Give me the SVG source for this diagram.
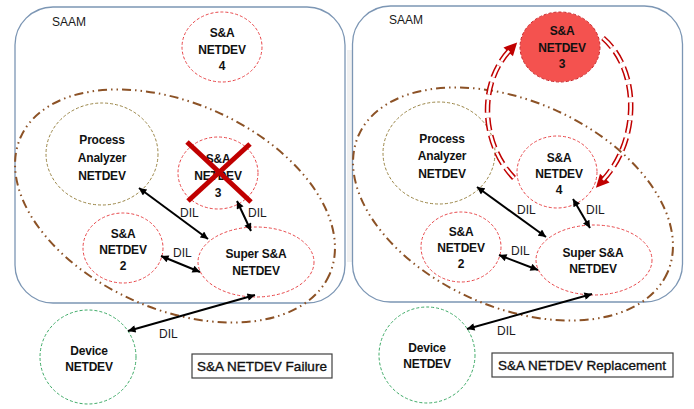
<svg xmlns="http://www.w3.org/2000/svg" width="694" height="409" viewBox="0 0 694 409">
  <style>
    .saam { fill: #ffffff; stroke: #7c96b4; stroke-width: 1.3; }
    .zone { fill: none; stroke: #8c5226; stroke-width: 2; stroke-dasharray: 9 4 1.5 4 1.5 4; }
    .sa { fill: #ffffff; stroke: #e8474a; stroke-width: 1; stroke-dasharray: 3 2; }
    .pa { fill: #ffffff; stroke: #9a8546; stroke-width: 1; stroke-dasharray: 3 2; }
    .dev { fill: #ffffff; stroke: #3daa66; stroke-width: 1; stroke-dasharray: 3 2; }
    .hot { fill: #f4524f; stroke: #c8262a; stroke-width: 1; stroke-dasharray: 3 2; }
    .lbl { font-family: "Liberation Sans", Arial, sans-serif; font-size: 12px; font-weight: bold; fill: #111111; text-anchor: middle; letter-spacing: -0.2px; }
    .txt { font-family: "Liberation Sans", Arial, sans-serif; font-size: 12px; fill: #1a1a1a; }
    .cap { font-family: "Liberation Sans", Arial, sans-serif; font-size: 13.5px; fill: #111111; stroke: #111111; stroke-width: 0.35; text-anchor: middle; }
    .capbox { fill: #ffffff; stroke: #404040; stroke-width: 1.2; }
    .dil { stroke: #000000; stroke-width: 2; fill: none; marker-start: url(#ah); marker-end: url(#ah); }
    .loop { fill: none; stroke: #c00000; stroke-width: 5.5; stroke-dasharray: 13 5; }
    .loopin { fill: none; stroke: #ffffff; stroke-width: 2.5; stroke-dasharray: 13 5; }
    .cross { stroke: #c00000; stroke-width: 5; stroke-linecap: butt; }
  </style>
  <defs>
    <marker id="ah" viewBox="0 0 10 10" refX="10" refY="5" markerUnits="userSpaceOnUse" markerWidth="9" markerHeight="7.5" orient="auto-start-reverse">
      <path d="M0,0 L10,5 L0,10 z" fill="#000000"/>
    </marker>
    <marker id="rh" viewBox="0 0 10 10" refX="2" refY="5" markerUnits="userSpaceOnUse" markerWidth="14" markerHeight="13" orient="auto">
      <path d="M0,0 L10,5 L0,10 z" fill="#c00000"/>
    </marker>
  </defs>

  <!-- faint shadow between the two panels -->
  <rect x="347" y="50" width="5" height="212" fill="#f1f1f1"/>

  <!-- ===== Left panel: failure ===== -->
  <g id="saam-left">
    <rect class="saam" x="15" y="7" width="330" height="296" rx="38" ry="38"/>
    <text class="txt" x="52" y="26">SAAM</text>
  </g>
  <g id="zone-left">
    <ellipse class="zone" cx="175" cy="206" rx="169" ry="103" transform="rotate(24 175 206)"/>
  </g>

  <g id="sa4-left">
    <ellipse class="sa" cx="222" cy="47" rx="40" ry="35"/>
    <text class="lbl" x="222" y="37">S&amp;A</text>
    <text class="lbl" x="222" y="54">NETDEV</text>
    <text class="lbl" x="222" y="70">4</text>
  </g>
  <g id="pa-left">
    <ellipse class="pa" cx="102" cy="154" rx="56" ry="51"/>
    <text class="lbl" x="102" y="144">Process</text>
    <text class="lbl" x="102" y="162">Analyzer</text>
    <text class="lbl" x="102" y="180">NETDEV</text>
  </g>
  <g id="sa3-left">
    <ellipse class="sa" cx="218" cy="173" rx="40" ry="36"/>
    <text class="lbl" x="218" y="163">S&amp;A</text>
    <text class="lbl" x="218" y="180">NETDEV</text>
    <text class="lbl" x="218" y="197">3</text>
  </g>
  <g id="sa2-left">
    <ellipse class="sa" cx="123" cy="248" rx="40" ry="35"/>
    <text class="lbl" x="123" y="238">S&amp;A</text>
    <text class="lbl" x="123" y="254">NETDEV</text>
    <text class="lbl" x="123" y="270">2</text>
  </g>
  <g id="super-left">
    <ellipse class="sa" cx="256" cy="262" rx="58" ry="35"/>
    <text class="lbl" x="256" y="258">Super S&amp;A</text>
    <text class="lbl" x="256" y="275">NETDEV</text>
  </g>
  <g id="device-left">
    <ellipse class="dev" cx="88" cy="357" rx="48" ry="47"/>
    <text class="lbl" x="89" y="355">Device</text>
    <text class="lbl" x="89" y="371">NETDEV</text>
  </g>
  <g id="caption-left">
    <rect class="capbox" x="192" y="354" width="140" height="24"/>
    <text class="cap" x="262" y="371">S&amp;A NETDEV Failure</text>
  </g>

  <!-- ===== Right panel: replacement ===== -->
  <g id="saam-right">
    <rect class="saam" x="352.5" y="6" width="330" height="296" rx="38" ry="38"/>
    <text class="txt" x="389" y="24">SAAM</text>
  </g>
  <g id="zone-right">
    <ellipse class="zone" cx="513" cy="204" rx="169" ry="103" transform="rotate(24 513 204)"/>
  </g>

  <g id="sa3-right">
    <ellipse class="hot" cx="560" cy="47" rx="40" ry="35"/>
    <text class="lbl" x="562" y="35">S&amp;A</text>
    <text class="lbl" x="562" y="52">NETDEV</text>
    <text class="lbl" x="562" y="68">3</text>
  </g>
  <g id="pa-right">
    <ellipse class="pa" cx="439" cy="153" rx="56" ry="51"/>
    <text class="lbl" x="442" y="143">Process</text>
    <text class="lbl" x="442" y="160">Analyzer</text>
    <text class="lbl" x="442" y="178">NETDEV</text>
  </g>
  <g id="sa4-right">
    <ellipse class="sa" cx="557" cy="172" rx="40" ry="36"/>
    <text class="lbl" x="559" y="162">S&amp;A</text>
    <text class="lbl" x="559" y="178">NETDEV</text>
    <text class="lbl" x="559" y="194">4</text>
  </g>
  <g id="sa2-right">
    <ellipse class="sa" cx="461" cy="247" rx="40" ry="35"/>
    <text class="lbl" x="461" y="236">S&amp;A</text>
    <text class="lbl" x="461" y="252">NETDEV</text>
    <text class="lbl" x="461" y="268">2</text>
  </g>
  <g id="super-right">
    <ellipse class="sa" cx="594" cy="260" rx="58" ry="35"/>
    <text class="lbl" x="593" y="257">Super S&amp;A</text>
    <text class="lbl" x="593" y="273">NETDEV</text>
  </g>
  <g id="device-right">
    <ellipse class="dev" cx="427" cy="355" rx="48" ry="48"/>
    <text class="lbl" x="427" y="352">Device</text>
    <text class="lbl" x="427" y="368">NETDEV</text>
  </g>
  <g id="caption-right">
    <rect class="capbox" x="492" y="353" width="181" height="24"/>
    <text class="cap" x="582" y="370">S&amp;A NETDEV Replacement</text>
  </g>

  <!-- ===== Connectors ===== -->
  <g id="connectors">
    <line class="dil" x1="139" y1="188" x2="208" y2="239"/>
    <line class="dil" x1="237" y1="201" x2="251" y2="231"/>
    <line class="dil" x1="161" y1="256" x2="200" y2="272"/>
    <line class="dil" x1="255" y1="295" x2="128" y2="331"/>
    <text class="txt" x="180" y="217">DIL</text>
    <text class="txt" x="248" y="217">DIL</text>
    <text class="txt" x="173" y="257">DIL</text>
    <text class="txt" x="159" y="338">DIL</text>

    <line class="dil" x1="477" y1="187" x2="546" y2="237"/>
    <line class="dil" x1="573" y1="199" x2="590" y2="228"/>
    <line class="dil" x1="499" y1="255" x2="538" y2="270"/>
    <line class="dil" x1="592" y1="294" x2="467" y2="329"/>
    <text class="txt" x="517" y="214">DIL</text>
    <text class="txt" x="586" y="214">DIL</text>
    <text class="txt" x="511" y="255">DIL</text>
    <text class="txt" x="497" y="335">DIL</text>

    <!-- swap loop between NETDEV 4 and NETDEV 3 -->
    <path class="loop" d="M514,178 C482,145 477,85 510,50" marker-end="url(#rh)"/>
    <path class="loopin" d="M514,178 C482,145 477,85 510,50"/>
    <path class="loop" d="M603,38 C640,70 640,140 603,180" marker-end="url(#rh)"/>
    <path class="loopin" d="M603,38 C640,70 640,140 603,180"/>
  </g>

  <!-- failed device mark -->
  <g id="failure-mark">
    <line class="cross" x1="187" y1="142" x2="251" y2="202"/>
    <line class="cross" x1="250" y1="144" x2="188" y2="201"/>
  </g>
</svg>
